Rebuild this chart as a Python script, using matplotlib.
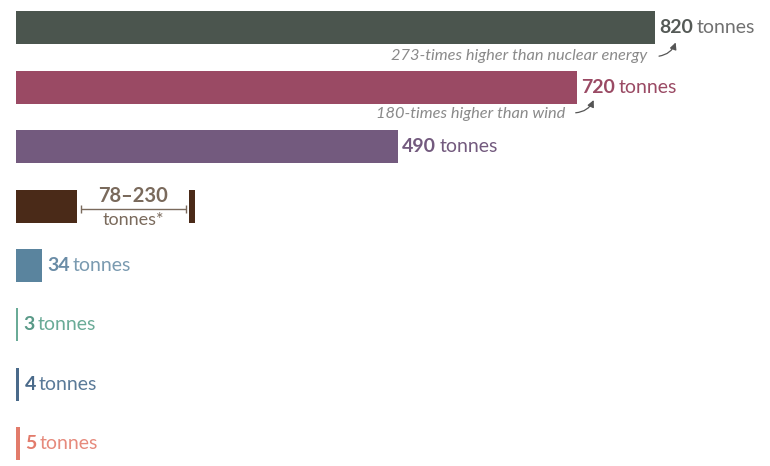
import matplotlib
matplotlib.use("Agg")
import matplotlib.pyplot as plt
from matplotlib.patches import FancyArrowPatch

values = [820, 720, 490, 78, 34, 3, 4, 5]
range_hi = 230
colors = ["#4b554e", "#9a4a64", "#735a7e", "#4a2a18", "#5a849e", "#6aab97", "#4a6a8a", "#e27b6b"]
num_colors = ["#555a57", "#9a4a64", "#735a7e", "#7a6a5c", "#6a8ca6", "#5a9a88", "#4a6a8a", "#e27b6b"]
unit_colors = ["#707070", "#9a4a64", "#735a7e", "#7a6a5c", "#7a9ab0", "#6aab97", "#5a7a98", "#e68a7c"]
labels = ["820", "720", "490", "78–230", "34", "3", "4", "5"]
notes = {0: "273-times higher than nuclear energy", 1: "180-times higher than wind"}

plt.rcParams['font.family'] = ['Lato', 'DejaVu Sans']

fig = plt.figure(figsize=(7.7, 4.66), dpi=100)
ax = fig.add_axes([0, 0, 1, 1])
ax.set_xlim(-20.5, 968)
ax.set_ylim(7.374, -0.471)
ax.axis('off')

bh = 0.556
for i, (v, c) in enumerate(zip(values, colors)):
    ax.barh(i, v, height=bh, color=c, left=0)

# range marker for row 3
ax.barh(3, 8, left=range_hi - 8, height=bh, color=colors[3])
lo_line, hi_line = 83.5, 218
mid = (lo_line + hi_line) / 2
ax.errorbar([mid], [3.05], xerr=[[(hi_line - lo_line) / 2]],
            fmt='none', ecolor="#7a6a5c", elinewidth=1.0, capsize=3, capthick=1.0)
ax.text(mid, 3.0, "78–230", ha='center', va='bottom', fontsize=14.5, fontweight='bold', color="#7a6a5c")
ax.text(mid, 3.09, "tonnes*", ha='center', va='top', fontsize=13, color="#7a6a5c")

fig.canvas.draw()
r = fig.canvas.get_renderer()
inv = ax.transData.inverted()
for i, v in enumerate(values):
    if i == 3:
        continue
    x0 = v + 6 if v > 20 else v + 7
    t = ax.text(x0, i, labels[i], ha='left', va='center', fontsize=14, fontweight='bold', color=num_colors[i])
    bb = t.get_window_extent(renderer=r)
    xend = inv.transform((bb.x1, 0))[0]
    ax.text(xend + 4, i, "tonnes", ha='left', va='center', fontsize=14, color=unit_colors[i])

# notes
ax.text(811, 0.47, notes[0], ha='right', va='center', fontsize=11.8, style='italic', color="#8a8a8a")
ax.text(705, 1.45, notes[1], ha='right', va='center', fontsize=11.8, style='italic', color="#8a8a8a")
for (xs, ys_, xe, ye) in [(822, 0.48, 848, 0.2), (715, 1.43, 743, 1.17)]:
    a = FancyArrowPatch((xs, ys_), (xe, ye), connectionstyle="arc3,rad=0.35",
                        arrowstyle="-|>,head_length=4,head_width=2", color="#555555", lw=0.9)
    ax.add_patch(a)

fig.savefig("out.png", dpi=100)
